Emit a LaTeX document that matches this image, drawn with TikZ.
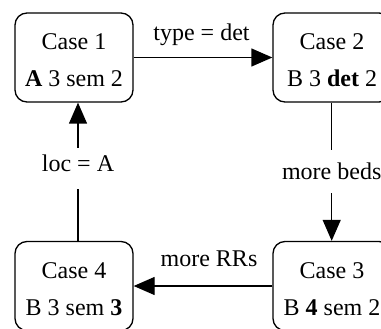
\documentclass[tikz,border=0pt]{standalone}
\usepackage{fontspec}
\setmainfont{Liberation Serif}
\usetikzlibrary{arrows.meta}
\begin{document}
\begin{tikzpicture}[x=1pt,y=-1pt,
  every node/.style={font=\fontsize{24}{37}\selectfont, inner sep=0pt},
  casebox/.style={draw, line width=1.3pt, rounded corners=12pt,
    minimum width=118pt, minimum height=89pt, align=center,
    text height=60pt, text depth=1pt},
  conn/.style={line width=1.3pt},
  arr/.style={line width=1.3pt, -{Triangle[length=21pt,width=18pt]}},
  lbl/.style={anchor=base}
]
\clip (0,0) rectangle (381,329);
\useasboundingbox (0,0) rectangle (381,329);
\node[casebox] (c1) at (74,57.5) {Case 1\\\textbf{A} 3 sem 2};
\node[casebox] (c2) at (332,57.5) {Case 2\\B 3 \textbf{det} 2};
\node[casebox] (c3) at (332,286) {Case 3\\B \textbf{4} sem 2};
\node[casebox] (c4) at (74,286) {Case 4\\B 3 sem \textbf{3}};
% top arrow
\draw[arr] (c1.east) -- (c2.west);
\node[lbl] (l12) at (201.5,40.7) {type = det};
% right vertical
\node[lbl, text height=30pt, text depth=13pt] (l23) at (331.7,180) {more beds};
\draw[conn] (l23.north |- c2.south) -- (l23.north);
\draw[arr] (l23.south) -- (l23.south |- c3.north);
% bottom arrow
\draw[arr] (c3.west) -- (c4.east);
\node[lbl] (l34) at (209,266.7) {more RRs};
% left vertical
\node[lbl, text height=23.7pt, text depth=17.3pt] (l41) at (78,171.7) {loc = A};
\draw[conn] (l41.south |- c4.north) -- (l41.south);
\draw[arr] (l41.north) -- (l41.north |- c1.south);
\end{tikzpicture}
\end{document}
